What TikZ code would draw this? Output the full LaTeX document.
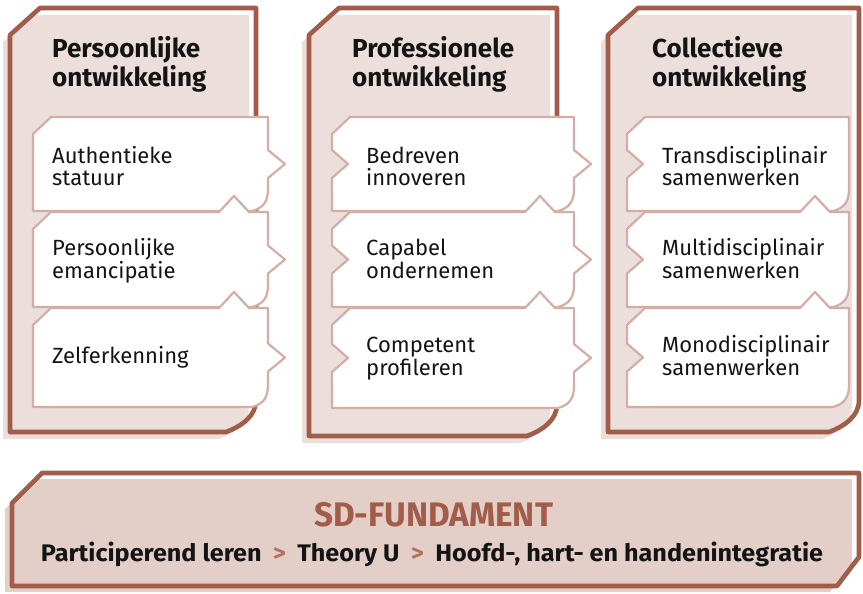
\documentclass[tikz,border=0pt]{standalone}
\usepackage{fontspec}
\setmainfont{Fira Sans}
\usepackage{graphicx}

\definecolor{brn}{HTML}{A25C4A}
\definecolor{panelpink}{HTML}{ECDFDB}
\definecolor{basepink}{HTML}{E4CFC8}
\definecolor{cardline}{HTML}{D3AEA4}
\definecolor{sepbrown}{HTML}{B5725E}
\definecolor{ink}{HTML}{141414}

% column panel: L T R B
\newcommand\panelshape[4]{(#1,#2+27) -- (#1+30,#2) -- (#3,#2) -- (#3,#4-32)
  .. controls (#3,#4-16) and (#3-14,#4-6) .. (#3-30,#4) -- (#1,#4) -- cycle}
\newcommand\drawpanel[4]{%
  \begin{scope}[shift={(-7,7)}]\fill[panelfill] \panelshape{#1}{#2}{#3}{#4};\end{scope}
  \draw[paneledge] \panelshape{#1}{#2}{#3}{#4};}

% card, first column: straight left side, arrow out on the right
% args: L T R B bump-height
\newcommand\cardA[5]{%
  \path[cardbox] (#1,#2+17) -- (#1+18,#2) -- (#3-49,#2) -- (#3-34,#2-#5) -- (#3-19,#2) -- (#3,#2)
    -- (#3,{(#2+#4)/2-14}) -- (#3+17,{(#2+#4)/2}) -- (#3,{(#2+#4)/2+14})
    -- (#3,#4-22) .. controls (#3,#4-9) and (#3-5,#4-3) .. (#3-16,#4)
    -- (#1,#4) -- cycle;}
% card, middle column: notch in on the left, arrow out on the right
\newcommand\cardB[5]{%
  \path[cardbox] (#1,#2+17) -- (#1+18,#2) -- (#3-49,#2) -- (#3-34,#2-#5) -- (#3-19,#2) -- (#3,#2)
    -- (#3,{(#2+#4)/2-14}) -- (#3+17,{(#2+#4)/2}) -- (#3,{(#2+#4)/2+14})
    -- (#3,#4-22) .. controls (#3,#4-9) and (#3-5,#4-3) .. (#3-16,#4)
    -- (#1,#4) -- (#1,{(#2+#4)/2+14}) -- (#1+16,{(#2+#4)/2}) -- (#1,{(#2+#4)/2-14}) -- cycle;}
% card, last column: notch in on the left, straight right side
\newcommand\cardC[5]{%
  \path[cardbox] (#1,#2+17) -- (#1+18,#2) -- (#3-49,#2) -- (#3-34,#2-#5) -- (#3-19,#2) -- (#3,#2)
    -- (#3,#4-22) .. controls (#3,#4-9) and (#3-5,#4-3) .. (#3-16,#4)
    -- (#1,#4) -- (#1,{(#2+#4)/2+14}) -- (#1+16,{(#2+#4)/2}) -- (#1,{(#2+#4)/2-14}) -- cycle;}

\begin{document}
\begin{tikzpicture}[x=1pt,y=-1pt,
  panelfill/.style={fill=panelpink},
  paneledge/.style={draw=brn,line width=4.6pt,line join=round},
  cardbox/.style={fill=white,draw=cardline,line width=2.2pt,line join=round},
  cardtext/.style={anchor=base west,inner sep=0pt,text=ink,font=\fontsize{22}{24}\selectfont},
  titletext/.style={anchor=base west,inner sep=0pt,text=ink,font=\fontsize{26}{30}\selectfont\bfseries},
  basefill/.style={fill=basepink},
]
\useasboundingbox (0,0) rectangle (863,594);

% three column panels
\drawpanel{10}{8}{256}{432}
\drawpanel{309}{8}{557}{436}
\drawpanel{608}{8}{859}{432}

% panel titles
\node[titletext] (t1a) at (52,58) {Persoonlijke};
\node[titletext] (t1b) at (52,87) {ontwikkeling};
\node[titletext] (t2a) at (352,58) {Professionele};
\node[titletext] (t2b) at (352,87) {ontwikkeling};
\node[titletext] (t3a) at (652,58) {Collectieve};
\node[titletext] (t3b) at (652,87) {ontwikkeling};

% cards, top to bottom so each bump lies over the card above
\cardA{33}{117}{268}{211}{0}
\cardA{33}{212}{268}{307}{16}
\cardA{33}{308}{268}{407}{16}
\cardB{332}{117}{574}{211}{0}
\cardB{332}{212}{574}{307}{16}
\cardB{332}{308}{574}{408}{16}
\cardC{627}{117}{849}{211}{0}
\cardC{627}{212}{849}{307}{16}
\cardC{627}{308}{849}{407}{16}

% card texts
\node[cardtext] (a1a) at (52,163) {Authentieke};
\node[cardtext] (a1b) at (52,185) {statuur};
\node[cardtext] (a2a) at (52,255) {Persoonlijke};
\node[cardtext] (a2b) at (52,278) {emancipatie};
\node[cardtext] (a3a) at (52,363) {Zelferkenning};

\node[cardtext] (b1a) at (366,163) {Bedreven};
\node[cardtext] (b1b) at (366,185) {innoveren};
\node[cardtext] (b2a) at (366,255) {Capabel};
\node[cardtext] (b2b) at (366,278) {ondernemen};
\node[cardtext] (b3a) at (366,352) {Competent};
\node[cardtext] (b3b) at (366,375) {profileren};

\node[cardtext] (c1a) at (662,163) {Transdisciplinair};
\node[cardtext] (c1b) at (662,185) {samenwerken};
\node[cardtext] (c2a) at (662,255) {Multidisciplinair};
\node[cardtext] (c2b) at (662,278) {samenwerken};
\node[cardtext] (c3a) at (662,352) {Monodisciplinair};
\node[cardtext] (c3b) at (662,375) {samenwerken};

% foundation bar
\begin{scope}[shift={(-7,6)}]
  \fill[basefill] (12,503) -- (42,473) -- (859,473) -- (859,557) -- (837,586) -- (12,586) -- cycle;
\end{scope}
\draw[paneledge] (12,503) -- (42,473) -- (859,473) -- (859,557) -- (837,586) -- (12,586) -- cycle;

\node[anchor=base,inner sep=0pt,text=brn,font=\fontsize{34}{34}\selectfont\bfseries] (sd) at (433.5,526)
  {\resizebox{239pt}{\height}{SD-FUNDAMENT}};
\node[anchor=base,inner sep=0pt,text=ink,font=\fontsize{24}{24}\selectfont\bfseries] (sub) at (432,561)
  {\resizebox{782pt}{\height}{Participerend leren\hspace{0.45em}\textcolor{sepbrown}{>}\hspace{0.45em}Theory U\hspace{0.45em}\textcolor{sepbrown}{>}\hspace{0.45em}Hoofd-, hart- en handenintegratie}};
\end{tikzpicture}
\end{document}
